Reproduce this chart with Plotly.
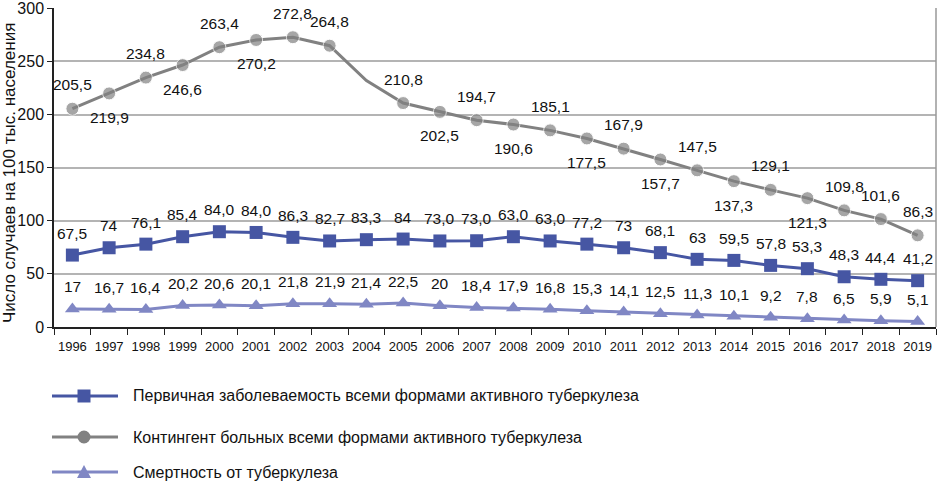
import plotly.graph_objects as go

# ---------------- data ----------------
years = ["1996", "1997", "1998", "1999", "2000", "2001", "2002", "2003", "2004", "2005",
         "2006", "2007", "2008", "2009", "2010", "2011", "2012", "2013", "2014", "2015",
         "2016", "2017", "2018", "2019"]

# Первичная заболеваемость (plotted positions)
incidence_values = [67.7, 74.6, 78.0, 85.0, 89.7, 89.0, 84.4, 81.0, 82.2, 82.8,
                    81.0, 81.2, 85.0, 81.0, 78.0, 74.6, 70.0, 63.7, 62.7, 58.0,
                    54.9, 47.3, 44.9, 43.6]
incidence_labels = ["67,5", "74", "76,1", "85,4", "84,0", "84,0", "86,3", "82,7", "83,3", "84",
                    "73,0", "73,0", "63,0", "63,0", "77,2", "73", "68,1", "63", "59,5", "57,8",
                    "53,3", "48,3", "44,4", "41,2"]

# Контингент больных
prevalence_values = [205.5, 219.9, 234.8, 246.6, 263.4, 270.2, 272.8, 264.8, 232.0, 210.8,
                     202.5, 194.7, 190.6, 185.1, 177.5, 167.9, 157.7, 147.5, 137.3, 129.1,
                     121.3, 109.8, 101.6, 86.3]
prevalence_labels = ["205,5", "219,9", "234,8", "246,6", "263,4", "270,2", "272,8", "264,8", "", "210,8",
                     "202,5", "194,7", "190,6", "185,1", "177,5", "167,9", "157,7", "147,5", "137,3", "129,1",
                     "121,3", "109,8", "101,6", "86,3"]

# Смертность
mortality_values = [17.0, 16.7, 16.4, 20.2, 20.6, 20.1, 21.8, 21.9, 21.4, 22.5,
                    20.0, 18.4, 17.9, 16.8, 15.3, 14.1, 12.5, 11.3, 10.1, 9.2,
                    7.8, 6.5, 5.9, 5.1]
mortality_labels = ["17", "16,7", "16,4", "20,2", "20,6", "20,1", "21,8", "21,9", "21,4", "22,5",
                    "20", "18,4", "17,9", "16,8", "15,3", "14,1", "12,5", "11,3", "10,1", "9,2",
                    "7,8", "6,5", "5,9", "5,1"]

series_names = ["Первичная заболеваемость всеми формами активного туберкулеза",
                "Контингент больных всеми формами активного туберкулеза",
                "Смертность от туберкулеза"]

y_title = "Число случаев на 100 тыс. населения"
y_ticks = [0, 50, 100, 150, 200, 250, 300]

# ---------------- style ----------------
BLUE = "#4656a3"
GRAY = "#818181"
LILAC = "#8087c4"
FONT = "Liberation Sans, Arial, Helvetica, sans-serif"

# label placement for the gray series: +1 above, -1 below
prev_side = [1, -1, 1, -1, 1, -1, 1, 1, 0, 1, -1, 1, -1, 1, -1, 1, -1, 1, -1, 1, -1, 1, 1, 1]

W, H = 937, 481
ML, MR, MT, MB = 54, 1, 8, 154
PW = W - ML - MR
PH = H - MT - MB


def px(x):
    return (x - ML) / PW


def py(y):
    return (H - MB - y) / PH


fig = go.Figure()

fig.add_trace(go.Scatter(
    x=years, y=incidence_values, mode="lines+markers", name=series_names[0],
    line=dict(color=BLUE, width=3), marker=dict(symbol="square", size=13, color=BLUE),
    showlegend=False))
fig.add_trace(go.Scatter(
    x=years, y=prevalence_values, mode="lines+markers", name=series_names[1],
    line=dict(color=GRAY, width=3),
    marker=dict(symbol="circle", size=[13 if t else 0 for t in prevalence_labels], color=GRAY),
    showlegend=False))
fig.add_trace(go.Scatter(
    x=years, y=mortality_values, mode="lines+markers", name=series_names[2],
    line=dict(color=LILAC, width=3), marker=dict(symbol="triangle-up", size=13, color=LILAC),
    showlegend=False))

annotations = []
lab_font = dict(family=FONT, size=15.5, color="#111111")
# category axis: annotations use the category index
for i, (yv, t) in enumerate(zip(incidence_values, incidence_labels)):
    annotations.append(dict(x=i, y=yv, text=t, showarrow=False, yshift=22,
                            xanchor="center", yanchor="middle", font=lab_font))
for i, (yv, t, s) in enumerate(zip(prevalence_values, prevalence_labels, prev_side)):
    if t:
        annotations.append(dict(x=i, y=yv, text=t, showarrow=False, yshift=24 * s,
                                xanchor="center", yanchor="middle", font=lab_font))
for i, (yv, t) in enumerate(zip(mortality_values, mortality_labels)):
    annotations.append(dict(x=i, y=yv, text=t, showarrow=False, yshift=22,
                            xanchor="center", yanchor="middle", font=lab_font))

# y-axis title
annotations.append(dict(xref="paper", yref="paper", x=px(10), y=py(173), text=y_title,
                        textangle=-90, showarrow=False, xanchor="center", yanchor="middle",
                        font=dict(family=FONT, size=17, color="#111111")))

shapes = [dict(type="line", xref="paper", yref="paper", x0=1, x1=1, y0=0, y1=1,
               line=dict(color="#999999", width=1.5))]

# custom legend
leg_rows = [396, 437, 472]
leg_colors = [BLUE, GRAY, LILAC]
lx0, lx1, lmx, ltx = 52, 118, 84, 131
for i, (ry, col) in enumerate(zip(leg_rows, leg_colors)):
    shapes.append(dict(type="line", xref="paper", yref="paper", x0=px(lx0), x1=px(lx1),
                       y0=py(ry), y1=py(ry), line=dict(color=col, width=3)))
    if i == 0:
        shapes.append(dict(type="rect", xref="paper", yref="paper", x0=px(lmx - 6.5), x1=px(lmx + 6.5),
                           y0=py(ry + 6.5), y1=py(ry - 6.5), fillcolor=col, line=dict(width=0)))
    elif i == 1:
        shapes.append(dict(type="circle", xref="paper", yref="paper", x0=px(lmx - 6.5), x1=px(lmx + 6.5),
                           y0=py(ry + 6.5), y1=py(ry - 6.5), fillcolor=col, line=dict(width=0)))
    else:
        path = "M {} {} L {} {} L {} {} Z".format(px(lmx - 7), py(ry + 6), px(lmx + 7), py(ry + 6),
                                                  px(lmx), py(ry - 7))
        shapes.append(dict(type="path", xref="paper", yref="paper", path=path,
                           fillcolor=col, line=dict(width=0)))
    annotations.append(dict(xref="paper", yref="paper", x=px(ltx), y=py(ry), text=series_names[i],
                            showarrow=False, xanchor="left", yanchor="middle",
                            font=dict(family=FONT, size=16, color="#111111")))

fig.update_layout(
    width=W, height=H,
    margin=dict(l=ML, r=MR, t=MT, b=MB),
    paper_bgcolor="white", plot_bgcolor="white",
    annotations=annotations, shapes=shapes,
    showlegend=False,
    xaxis=dict(type="category", tickson="boundaries", ticks="outside", ticklen=6,
               tickcolor="#222222", showline=True, linecolor="#222222", linewidth=1.5,
               showgrid=False, tickangle=0, ticklabelstandoff=7,
               tickfont=dict(family=FONT, size=13, color="#111111"),
               range=[-0.5, len(years) - 0.5]),
    yaxis=dict(range=[0, 300.3], tickvals=y_ticks, ticklabeloverflow="allow",
               ticks="outside", ticklen=5, tickcolor="#222222",
               showline=True, linecolor="#222222", linewidth=1.5,
               showgrid=True, gridcolor="#b4b4b4", gridwidth=1.5, zeroline=False,
               tickfont=dict(family=FONT, size=16, color="#111111")),
)

fig.write_html("out.html")
